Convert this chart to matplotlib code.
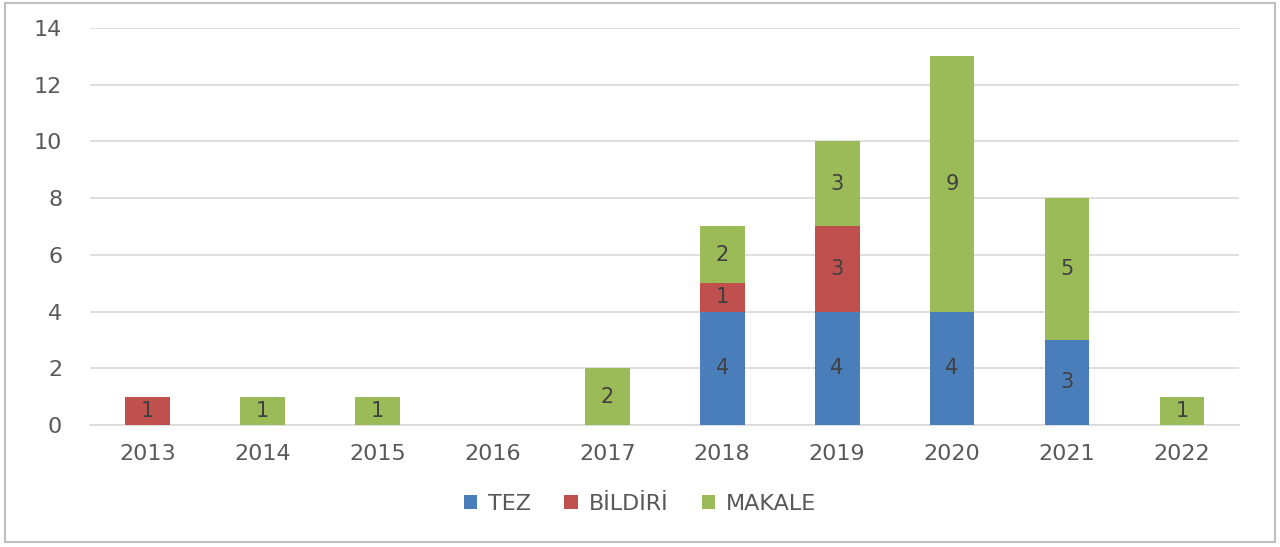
import numpy as np
import matplotlib.pyplot as plt
from matplotlib.patches import Rectangle

years = ['2013', '2014', '2015', '2016', '2017', '2018', '2019', '2020', '2021', '2022']
tez = [0, 0, 0, 0, 0, 4, 4, 4, 3, 0]
bildiri = [1, 0, 0, 0, 0, 1, 3, 0, 0, 0]
makale = [0, 1, 1, 0, 2, 2, 3, 9, 5, 1]

plt.rcParams['font.family'] = ['DejaVu Sans']

fig = plt.figure(figsize=(12.8, 5.47), dpi=100)
ax = fig.add_axes([0.0703, 0.223, 0.898, 0.726])

x = np.arange(len(years))
w = 0.39
series = [('TEZ', tez, '#4a7ebb'), ('BİLDİRİ', bildiri, '#c0504d'), ('MAKALE', makale, '#9bbb59')]
bottom = np.zeros(len(years))
for name, vals, col in series:
    vals = np.array(vals)
    ax.bar(x, vals, w, bottom=bottom, color=col, label=name, zorder=3)
    for xi, b, v in zip(x, bottom, vals):
        if v > 0:
            ax.text(xi, b + v / 2, str(v), ha='center', va='center',
                    fontsize=15, color='#404040', zorder=4)
    bottom += vals

ax.set_xlim(-0.5, len(years) - 0.5)
ax.set_ylim(0, 14)
ax.set_yticks(range(0, 15, 2))
ax.set_xticks(x)
ax.set_xticklabels(years)
ax.yaxis.grid(True, color='#d9d9d9', linewidth=1.2, zorder=0)
for s in ['top', 'right', 'left']:
    ax.spines[s].set_visible(False)
ax.spines['bottom'].set_color('#d9d9d9')
ax.spines['bottom'].set_linewidth(1.2)
ax.tick_params(axis='both', length=0, labelsize=16, labelcolor='#595959')
ax.tick_params(axis='y', pad=20)
ax.tick_params(axis='x', pad=14)

leg = fig.legend(loc='center', bbox_to_anchor=(0.5, 0.079), ncol=3, frameon=False,
                 fontsize=16, handlelength=0.6, handleheight=0.6, columnspacing=1.5,
                 handletextpad=0.5)
for t in leg.get_texts():
    t.set_color('#595959')

fig.patches.append(Rectangle((0.004, 0.01), 0.992, 0.985, transform=fig.transFigure,
                             fill=False, edgecolor='#bfbfbf', linewidth=1.5))

fig.savefig('out.png', dpi=100)
